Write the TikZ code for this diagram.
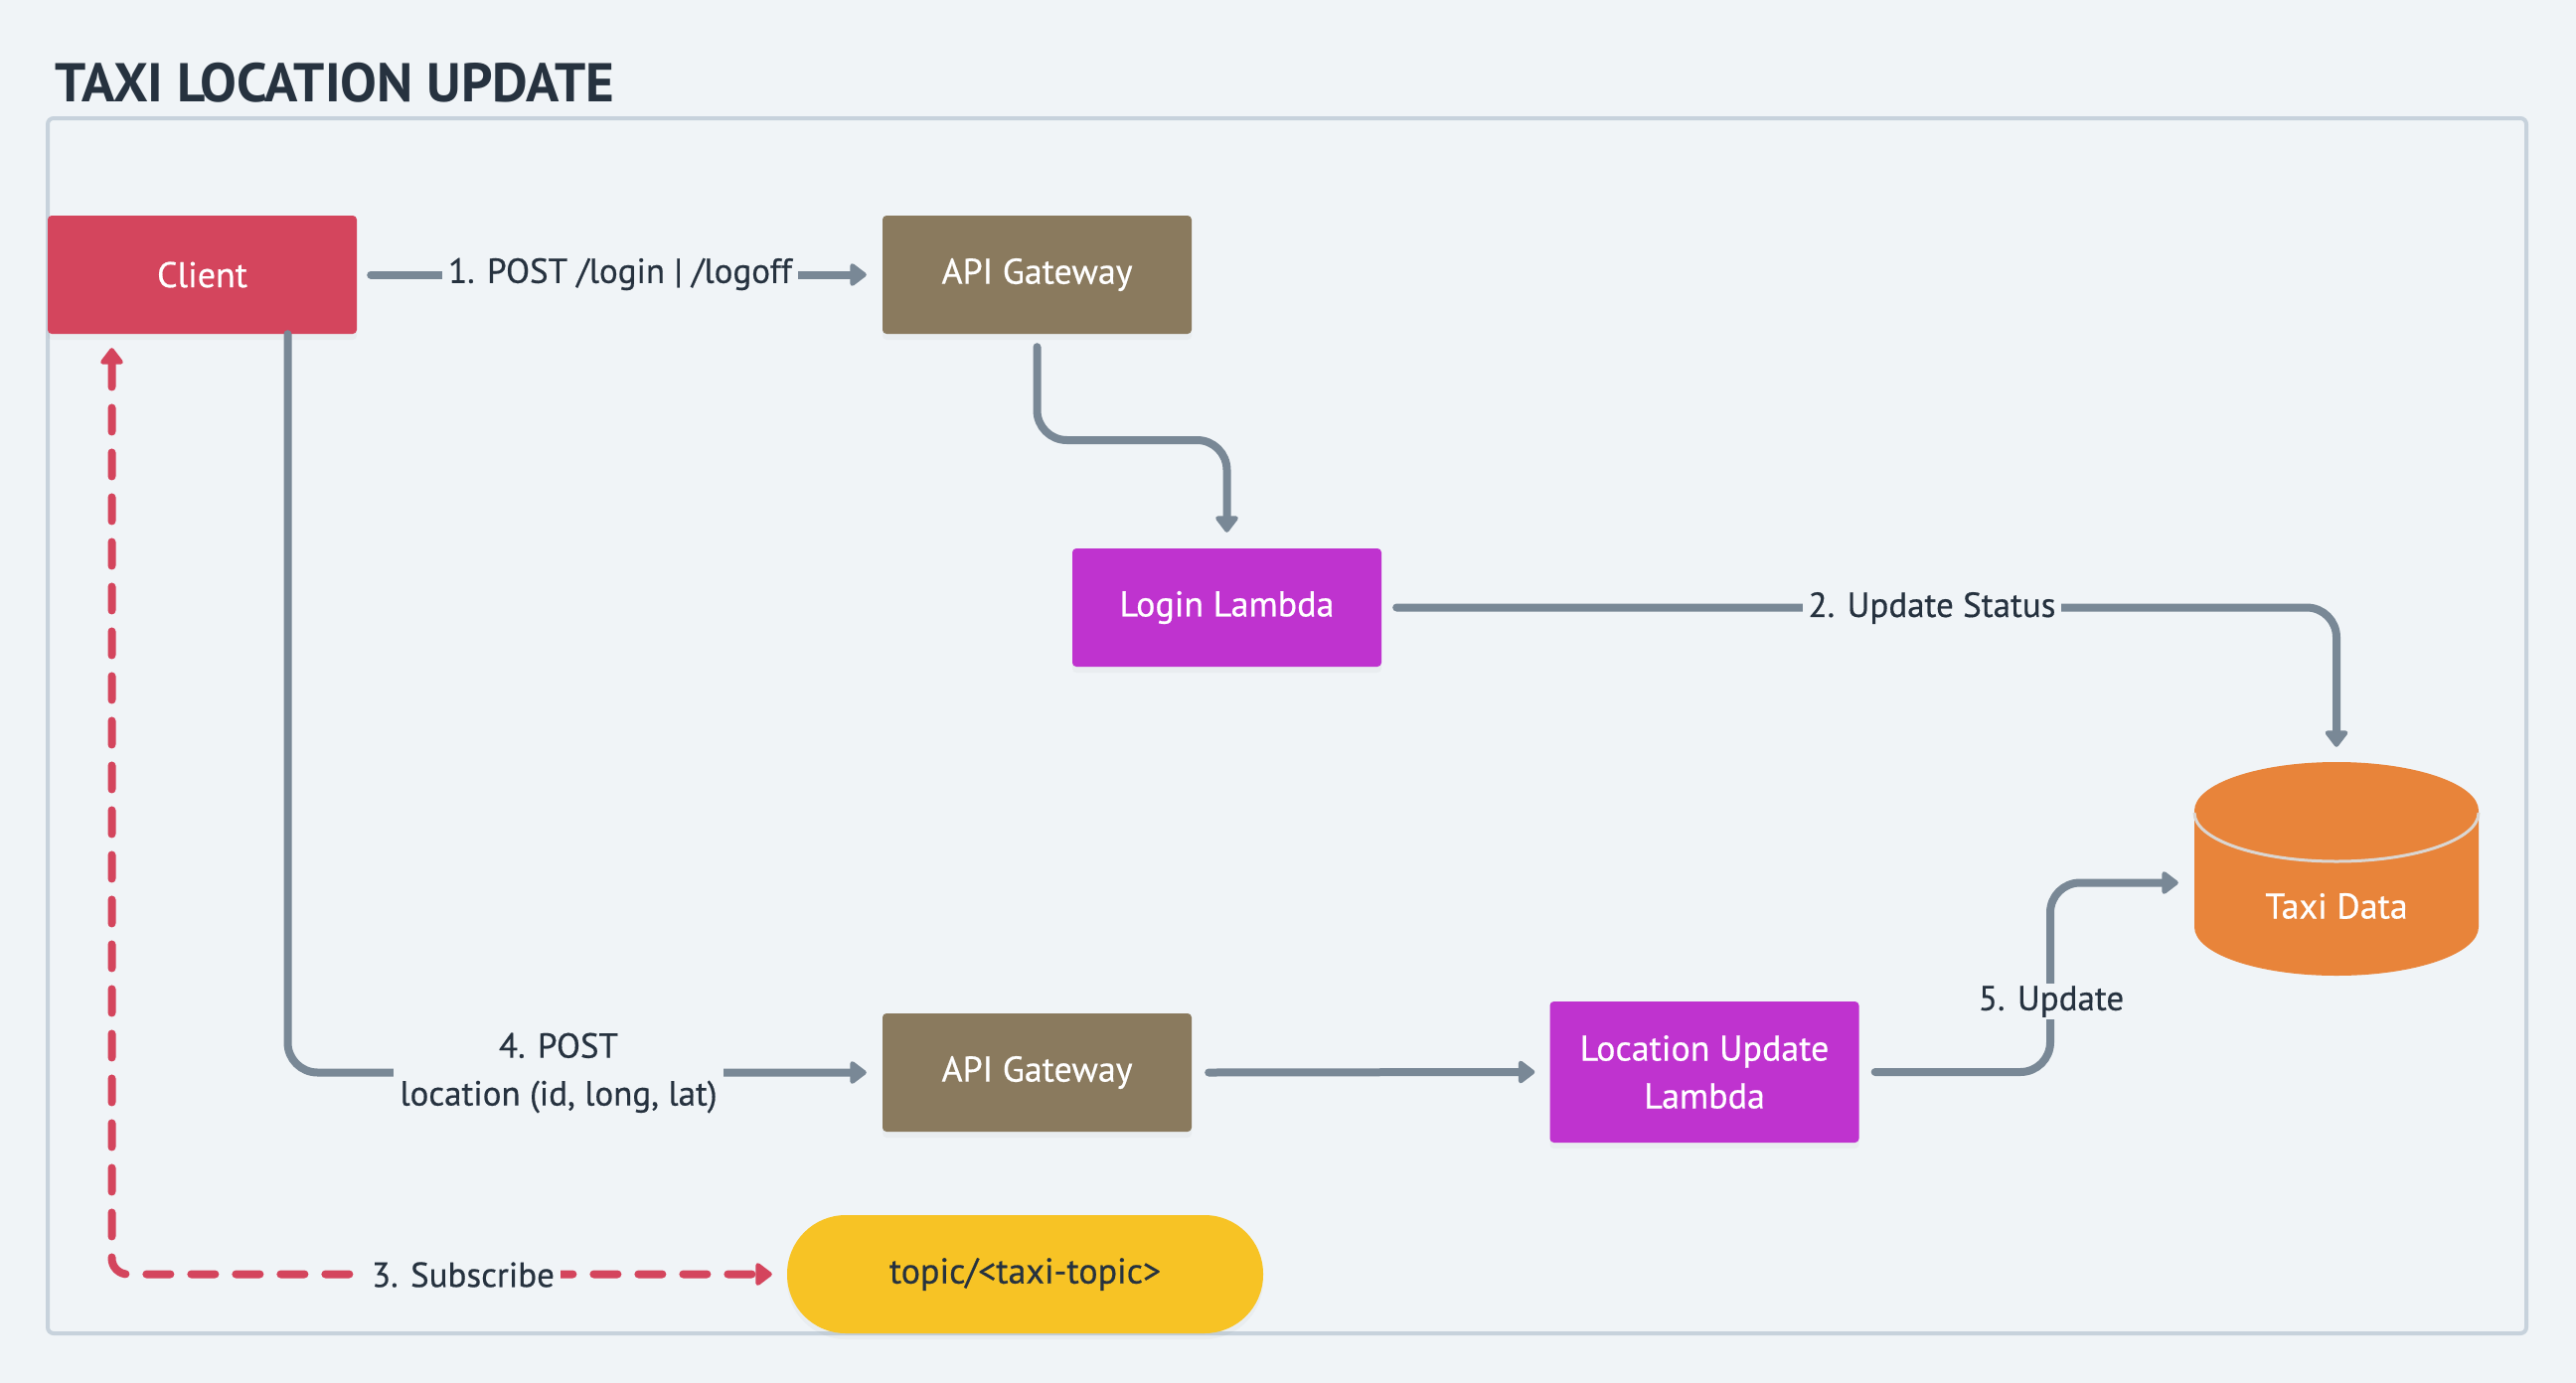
\documentclass[tikz,border=0pt]{standalone}
\usepackage{fontspec}
\setmainfont[FakeBold=0.5]{PT Sans}
\newfontfamily\titlefont{PT Sans}
\usepackage{xcolor}
\usepackage{tikz}
\usetikzlibrary{arrows.meta,positioning,shadows}
\definecolor{PageBg}{HTML}{F0F4F7}
\definecolor{FrameGrey}{HTML}{C7D2DC}
\definecolor{ClientRed}{HTML}{D4455D}
\definecolor{GatewayBrown}{HTML}{8A7A5E}
\definecolor{LambdaPurple}{HTML}{BF33CF}
\definecolor{DataOrange}{HTML}{E8843A}
\definecolor{TopicYellow}{HTML}{F7C325}
\definecolor{WireGrey}{HTML}{798896}
\definecolor{InkDark}{HTML}{26323F}
\definecolor{SeamGrey}{HTML}{DAD6D2}
\newcommand{\lblfont}{\fontsize{35}{48}\selectfont}
\newcommand{\boxfont}{\fontsize{36}{48}\selectfont}
\tikzset{
  box/.style    = {rounded corners=4pt, align=center, text=white, font=\boxfont,
                   minimum width=311pt, minimum height=119pt, inner sep=0pt,
                   drop shadow={opacity=0.06, shadow xshift=0pt, shadow yshift=-6pt}},
  client/.style = {box, fill=ClientRed},
  gateway/.style= {box, fill=GatewayBrown},
  lambda/.style = {box, fill=LambdaPurple},
  topic/.style  = {box, fill=TopicYellow, text=InkDark, minimum width=479pt,
                   rounded corners=59pt},
  flow/.style   = {-{Triangle[length=18pt,width=26pt,round]}, draw=WireGrey,
                   line width=8pt, line cap=round, rounded corners=30pt},
  sub/.style    = {{Triangle[length=18pt,width=26pt,round]}-{Triangle[length=18pt,width=26pt,round]},
                   draw=ClientRed, line width=8pt, line cap=round,
                   dash pattern=on 24pt off 21pt, rounded corners=16pt},
  lbl/.style    = {fill=PageBg, text=InkDark, font=\lblfont, inner xsep=6pt, inner ysep=2pt},
}

\begin{document}
\begin{tikzpicture}[x=1pt, y=-1pt]

  \fill[PageBg] (0,0) rectangle (2592,1392);
  \useasboundingbox (0,0) rectangle (2592,1392);

  \node[anchor=west, text=InkDark, font=\titlefont\fontsize{55}{66}\selectfont\bfseries]
    (title) at (52,83) {TAXI LOCATION UPDATE};
  \draw[FrameGrey, line width=4pt, rounded corners=6pt] (48,119) rectangle (2542,1342);

  \node[client]  (client)  at (203.5,276.5)  {Client};
  \node[gateway] (gwlogin) at (1043.5,276.5) {API Gateway};
  \node[lambda]  (loginfn) at (1234.5,611.5) {Login Lambda};
  \node[gateway] (gwloc)   at (1043.5,1079.5) {API Gateway};
  \node[lambda, minimum height=142pt] (locfn) at (1715,1079) {Location Update\\Lambda};
  \node[topic]   (topic)   at (1031.5,1282.5) {topic/<taxi-topic>};

  % cylinder drawn by hand round an empty node
  \node[minimum width=286pt, minimum height=215pt, inner sep=0pt] (taxidb) at (2351,874.5) {};
  \fill[DataOrange] (2208,816) -- (2208,933)
    arc[start angle=180, end angle=360, x radius=143pt, y radius=49pt]
    -- (2494,816)
    arc[start angle=0, end angle=180, x radius=143pt, y radius=49pt] -- cycle;
  \draw[SeamGrey, line width=3pt] (2208,818)
    arc[start angle=180, end angle=360, x radius=143pt, y radius=49pt];
  \node[text=white, font=\boxfont] (taxilbl) at (2351,912) {Taxi Data};

  \coordinate (jog1) at (1140,443);
  \coordinate (jog2) at (2063,985);

  \draw[flow] ([xshift=14pt]client.east) -- ([xshift=-16pt]gwlogin.west);
  \draw[flow] ([yshift=-13pt]gwlogin.south) |- (jog1) -| ([yshift=16pt]loginfn.north);
  \draw[flow] ([xshift=15pt]loginfn.east) -| ([yshift=15pt]taxidb.north);
  \draw[flow] ([xshift=86pt]client.south) |- ([xshift=-16pt]gwloc.west);
  \draw[flow] ([xshift=17pt]gwloc.east) -- ([xshift=-15pt]locfn.west);
  \draw[flow] ([xshift=16pt]locfn.east) -| (jog2) |- ([xshift=-16pt,yshift=-14pt]taxidb.west);
  \draw[sub]  ([xshift=-91pt,yshift=-14pt]client.south) |- ([xshift=-15pt]topic.west);

  \node[lbl] at (624,276)  {1. POST /login | /logoff};
  \node[lbl] at (1944,612) {2. Update Status};
  \node[lbl] at (466,1283) {3. Subscribe};
  \node[lbl, align=center] at (562,1080) {4. POST\\location (id, long, lat)};
  \node[lbl] at (2064,1008) {5. Update};

\end{tikzpicture}
\end{document}
